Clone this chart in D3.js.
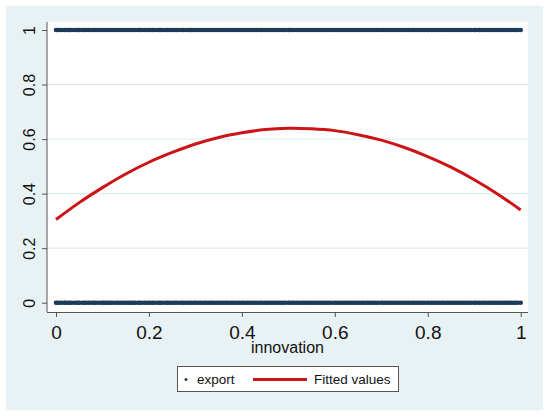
<!DOCTYPE html>
<meta charset="utf-8">
<script src="https://d3js.org/d3.v7.min.js"></script>
<style>
  body { margin: 0; background: #fff; }
  text { font-family: "Liberation Sans", Arial, sans-serif; fill: #111; }
</style>
<div id="chart"></div>
<script>

// observed innovation values (each appears among exporters and non-exporters)
var innovationObs = [
  0, .003, .008, .012, .018, .020, .025, .029, .032, .038, .043, .047, .050, .056, .061, .064, .069, .073, .079, .082, .086, .091, .097, .100,
  .104, .109, .113, .118, .121, .127, .132, .135, .140, .145, .149, .154, .158, .163, .167, .171, .177, .180, .185, .190, .194, .199,
  .203, .208, .211, .217, .222, .225, .230, .236, .239, .243, .248, .253, .257, .260, .266, .271, .274, .279, .284, .288, .292, .297,
  .300, .305, .310, .314, .319, .323, .328, .333, .336, .341, .346, .350, .355, .359, .364, .367, .372, .377, .381, .386, .391, .395,
  .400, .404, .409, .413, .418, .422, .427, .431, .436, .441, .444, .450, .454, .458, .463, .467, .472, .476, .481, .485, .490, .494,
  .500, .503, .508, .512, .517, .521, .526, .531, .535, .540, .544, .549, .553, .558, .562, .567, .571, .576, .580, .585, .589, .594,
  .600, .603, .608, .612, .617, .622, .626, .631, .635, .640, .644, .649, .653, .658, .662, .667, .671, .676, .680, .685, .689, .694,
  .700, .703, .708, .712, .717, .721, .726, .731, .735, .740, .744, .749, .753, .758, .762, .767, .771, .776, .780, .785, .789, .794,
  .800, .803, .808, .812, .817, .821, .826, .831, .835, .840, .844, .849, .853, .858, .862, .867, .871, .876, .880, .885, .889, .894,
  .900, .903, .908, .912, .917, .921, .926, .931, .935, .940, .944, .949, .953, .958, .962, .967, .971, .976, .980, .985, .989, .994, 1
]
var exportValues = [0, 1]

// fitted values
var fitX = [0, .05, .1, .15, .2, .25, .3, .35, .4, .45, .5, .55, .6, .65, .7, .75, .8, .85, .9, .95, 1]
var fitY = [.305, .367, .422, .472, .515, .551, .582, .606, .623, .635, .640, .638, .631, .616, .596, .569, .536, .497, .451, .399, .340]

var xTicks = [0, 0.2, 0.4, 0.6, 0.8, 1]
var xTickLabels = ["0", "0.2", "0.4", "0.6", "0.8", "1"]
var yTicks = [0, 0.2, 0.4, 0.6, 0.8, 1]
var yTickLabels = ["0", "0.2", "0.4", "0.6", "0.8", "1"]
var gridTicks = [0.2, 0.4, 0.6, 0.8]

var width = 550, height = 416
var plot = {left: 47, top: 22, right: 528, bottom: 312}

var navy = "#1b3b58", red = "#cc1417"

var svg = d3.select("#chart").append("svg")
  .attr("width", width)
  .attr("height", height)

// outer background
svg.append("rect")
  .attr("x", 6).attr("y", 6)
  .attr("width", 537).attr("height", 404)
  .attr("fill", "#e8f1f3")

// plot area
svg.append("rect")
  .attr("x", plot.left).attr("y", plot.top)
  .attr("width", plot.right - plot.left).attr("height", plot.bottom - plot.top)
  .attr("fill", "#fff")

var x = d3.scaleLinear().domain([0, 1]).range([56, 520.7])
var y = d3.scaleLinear().domain([0, 1]).range([302.7, 30])

// gridlines
svg.selectAll(".grid")
  .data(gridTicks)
  .enter()
  .append("line")
    .attr("x1", plot.left).attr("x2", plot.right)
    .attr("y1", function(d) { return y(d) }).attr("y2", function(d) { return y(d) })
    .attr("stroke", "#dce8ec")
    .attr("stroke-width", 1)

// y axis
var yAxis = svg.append("g")
  .attr("transform", "translate(" + plot.left + ",0)")
  .call(d3.axisLeft(y).tickValues(yTicks).tickSize(5)
    .tickFormat(function(d, i) { return yTickLabels[i] }))
yAxis.select(".domain").remove()
yAxis.selectAll("line").attr("stroke", "#555")
yAxis.selectAll("text")
  .attr("transform", "rotate(-90)")
  .attr("x", 0).attr("y", -12).attr("dy", 0)
  .attr("text-anchor", "middle")
  .style("font-size", "16px")

// x axis
var xAxis = svg.append("g")
  .attr("transform", "translate(0," + plot.bottom + ")")
  .call(d3.axisBottom(x).tickValues(xTicks).tickSize(5)
    .tickFormat(function(d, i) { return xTickLabels[i] }))
xAxis.select(".domain").remove()
xAxis.selectAll("line").attr("stroke", "#555")
xAxis.selectAll("text")
  .attr("y", 27).attr("dy", 0)
  .style("font-size", "19px")

// axis lines
svg.append("line")
  .attr("x1", plot.left).attr("x2", plot.left)
  .attr("y1", plot.top).attr("y2", plot.bottom)
  .attr("stroke", "#555")
svg.append("line")
  .attr("x1", plot.left).attr("x2", plot.right)
  .attr("y1", plot.bottom + 0.5).attr("y2", plot.bottom + 0.5)
  .attr("stroke", "#555")

// x title
svg.append("text")
  .attr("x", (plot.left + plot.right) / 2)
  .attr("y", 353)
  .attr("text-anchor", "middle")
  .style("font-size", "16px")
  .text("innovation")

// export scatter
var pts = []
exportValues.forEach(function(e) {
  innovationObs.forEach(function(v) { pts.push({x: v, y: e}) })
})
svg.append("g")
  .selectAll("circle")
  .data(pts)
  .enter()
  .append("circle")
    .attr("cx", function(d) { return x(d.x) })
    .attr("cy", function(d) { return y(d.y) })
    .attr("r", 2.3)
    .attr("fill", navy)

// fitted values
var fit = fitX.map(function(v, i) { return [v, fitY[i]] })
svg.append("path")
  .datum(fit)
  .attr("d", d3.line()
    .x(function(d) { return x(d[0]) })
    .y(function(d) { return y(d[1]) })
    .curve(d3.curveCatmullRom))
  .attr("fill", "none")
  .attr("stroke", red)
  .attr("stroke-width", 3)

// legend
var lg = svg.append("g")
lg.append("rect")
  .attr("x", 177.5).attr("y", 366.5)
  .attr("width", 221).attr("height", 25)
  .attr("fill", "#fff")
  .attr("stroke", "#555")
lg.append("circle")
  .attr("cx", 186).attr("cy", 379.5)
  .attr("r", 1.5)
  .attr("fill", navy)
lg.append("text")
  .attr("x", 197).attr("y", 384)
  .style("font-size", "13.5px")
  .text("export")
lg.append("line")
  .attr("x1", 253).attr("x2", 307)
  .attr("y1", 379.5).attr("y2", 379.5)
  .attr("stroke", red)
  .attr("stroke-width", 3)
lg.append("text")
  .attr("x", 314).attr("y", 384)
  .style("font-size", "13.5px")
  .text("Fitted values")

</script>
